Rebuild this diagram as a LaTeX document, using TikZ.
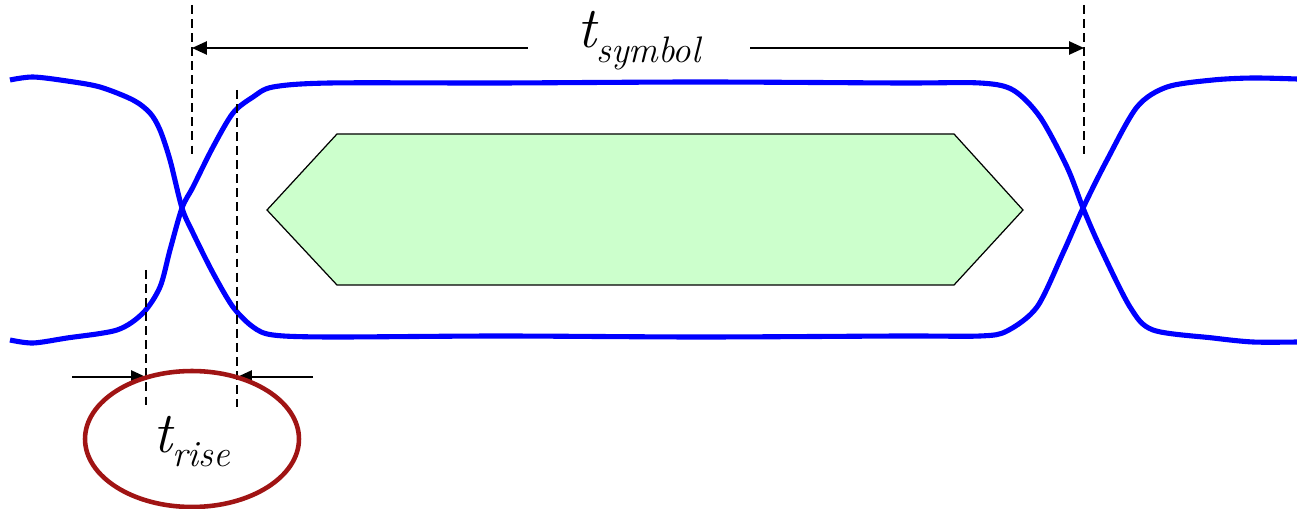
\documentclass[tikz,border=0pt]{standalone}
\usepackage{fontspec}
\usetikzlibrary{positioning,arrows.meta,shapes.geometric}
\definecolor{eyeblue}{RGB}{0,0,255}
\definecolor{eyegreen}{RGB}{204,255,204}
\definecolor{ringred}{RGB}{160,20,20}
% big italic t with a lowered subscript word
\newcommand{\tsub}[1]{{\itshape\fontsize{33}{33}\selectfont t\fontsize{21}{21}\selectfont\raisebox{-8pt}{#1}}}
\tikzset{trace/.style={draw=eyeblue,line width=2.9pt,line join=round},
            mask/.style={draw,fill=eyegreen,line width=0.7pt},
            guide/.style={draw,line width=0.6pt,dash pattern=on 5pt off 3pt},
            dim arrow/.style={draw,line width=1.1pt,-{Triangle[length=8.5pt,width=7.5pt]}},
            ring/.style={ellipse,draw=ringred,line width=2.6pt,minimum width=4.28cm,minimum height=2.72cm},
            }

\begin{document}
\begin{tikzpicture}[x=0.02cm,y=-0.02cm]
    \useasboundingbox (0,0) rectangle (1297,509);

    % eye opening
    \draw[mask] (267,210) -- (337,134) -- (954,134) -- (1023,210) -- (954,285) -- (337,285) -- cycle;

    % the two traces
    \draw[trace] plot[smooth,tension=0.5] coordinates {(10,80) (33,77) (67,81) (100,87) (133,100) (150,113)
        (160,130) (170,160) (182,208) (193,233) (213,273) (233,307) (253,327) (273,335) (330,337)
        (500,336) (700,337) (900,336) (980,336) (1007,331) (1037,307) (1063,253) (1083,208)
        (1107,160) (1137,107) (1167,87) (1213,80) (1253,78) (1297,79)};
    \draw[trace] plot[smooth,tension=0.5] coordinates {(10,340) (33,343) (67,338) (117,330) (143,313) (160,287)
        (170,250) (182,208) (193,187) (213,147) (233,113) (253,97) (273,87) (330,83)
        (500,83) (700,82) (900,83) (980,83) (1013,90) (1040,117) (1067,167) (1083,208)
        (1100,247) (1130,307) (1153,330) (1213,338) (1253,342) (1297,342)};

    % guide lines
    \coordinate (s1) at (192,5);
    \coordinate (s2) at (1084,5);
    \coordinate (r1) at (146,270);
    \coordinate (r2) at (237,90);
    \draw[guide] (s1) -- +(0,153);
    \draw[guide] (s2) -- +(0,153);
    \draw[guide] (r1) -- (146,407);
    \draw[guide] (r2) -- (237,407);

    % symbol period
    \node[inner xsep=28pt,inner ysep=0pt,anchor=base] (sym) at (639,48) {\tsub{symbol}};
    \draw[dim arrow] (sym.base west) -- (sym.base west -| s1);
    \draw[dim arrow] (sym.base east) -- (sym.base east -| s2);

    % rise time
    \coordinate (la) at (72,377);
    \coordinate (rb) at (313,377);
    \draw[dim arrow] (la) -- (la -| r1);
    \draw[dim arrow] (rb) -- (rb -| r2);
    \node[anchor=base] (rise) at (192,452) {\tsub{rise}};
    \node[ring] (ring) at (192,439) {};
\end{tikzpicture}
\end{document}
